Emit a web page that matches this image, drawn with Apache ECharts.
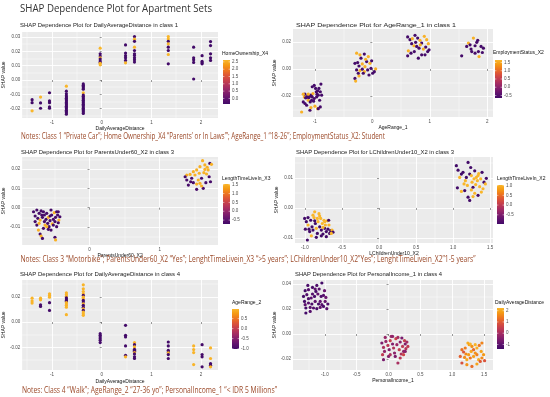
<!DOCTYPE html>
<html><head><meta charset="utf-8">
<script src="https://cdn.jsdelivr.net/npm/echarts@6/dist/echarts.min.js"></script>
<style>html,body{margin:0;padding:0;background:#fff}#c{width:550px;height:397px}</style>
</head><body><div id="c"></div>
<script>
// ---------- texts ----------
const mainTitle = 'SHAP Dependence Plot for Apartment Sets';
const panelTitles = [
  'SHAP Dependence Plot for DailyAverageDistance in class 1',
  'SHAP Dependence Plot for AgeRange_1 in class 1',
  'SHAP Dependence Plot for ParentsUnder60_X2 in class 3',
  'SHAP Dependence Plot for LChildrenUnder10_X2 in class 3',
  'SHAP Dependence Plot for DailyAverageDistance in class 4',
  'SHAP Dependence Plot for PersonalIncome_1 in class 4'
];
const xNames = ['DailyAverageDistance','AgeRange_1','ParentsUnder60_X2','LChildrenUnder10_X2','DailyAverageDistance','PersonalIncome_1'];
const yName = 'SHAP value';
const colorNames = ['HomeOwnership_X4','EmploymentStatus_X2','LengthTimeLiveIn_X3','LengthTimeLiveIn_X2','AgeRange_2','DailyAverageDistance'];
const notes = [
  'Notes: Class 1 \u201cPrivate Car\u201d; Home Ownership_X4 \u201cParents\u2019 or In Laws\u2019\u201d; AgeRange_1 \u201c18-26\u201d; EmploymentStatus_X2: Student',
  'Notes: Class 3 \u201cMotorbike\u201d; ParentsUnder60_X2 \u201cYes\u201d; LenghtTimeLivein_X3 \u201c>5 years\u201d; LChildrenUnder10_X2\u201dYes\u201d; LenghtTimeLivein_X2\u201d1-5 years\u201d',
  'Notes: Class 4 \u201cWalk\u201d; AgeRange_2 \u201c27-36 yo\u201d; PersonalIncome_1 \u201c< IDR 5 Millions\u201d'
];

// ---------- tick values ----------
const p1XTicks = [-1,0,1,2], p1XMinor = [-1.5,-0.5,0.5,1.5];
const p1YTicks = [-0.02,-0.01,0,0.01,0.02,0.03], p1YMinor = [-0.025,-0.015,-0.005,0.005,0.015,0.025];
const p2XTicks = [-1,0,1,2], p2XMinor = [-0.5,0.5,1.5];
const p2YTicks = [-0.02,0,0.02], p2YMinor = [-0.03,-0.01,0.01];
const p3XTicks = [0,1], p3XMinor = [-0.5,0.5,1.5];
const p3YTicks = [-0.01,0,0.01,0.02], p3YMinor = [-0.015,-0.005,0.005,0.015,0.025];
const p4XTicks = [-1,-0.5,0,0.5,1,1.5], p4XMinor = [-0.75,-0.25,0.25,0.75,1.25];
const p4YTicks = [-0.01,0,0.01], p4YMinor = [-0.005,0.005,0.015];
const p5XTicks = [-1,0,1,2], p5XMinor = [-1.5,-0.5,0.5,1.5];
const p5YTicks = [-0.02,0,0.02], p5YMinor = [-0.03,-0.01,0.01,0.03];
const p6XTicks = [-1,-0.5,0,0.5,1,1.5], p6XMinor = [-1.25,-0.75,-0.25,0.25,0.75,1.25];
const p6YTicks = [-0.02,0,0.02,0.04], p6YMinor = [-0.01,0.01,0.03];
const p1CTicks = [0,0.5,1,1.5,2,2.5];
const p2CTicks = [-0.5,0,0.5,1,1.5];
const p3CTicks = [-0.5,0,0.5,1,1.5];
const p4CTicks = [-0.5,0,0.5,1];
const p5CTicks = [-1,-0.5,0,0.5];
const p6CTicks = [-1,0,1,2];

// ---------- panel 1: DailyAverageDistance, class 1 ----------
const p1X = [
-1.40,-1.40,-1.40,
-1.23,-1.23,-1.23,
-1.05,-1.05,-1.05,-1.05,-1.05,
-0.71,-0.71,-0.71,-0.71,-0.71,-0.71,-0.71,-0.71,-0.71,-0.71,-0.71,-0.71,-0.71,-0.71,-0.71,-0.71,-0.71,-0.71,
-0.37,-0.37,-0.37,-0.37,-0.37,-0.37,-0.37,-0.37,-0.37,-0.37,-0.37,-0.37,-0.37,-0.37,-0.37,-0.37,-0.37,-0.37,-0.37,-0.37,-0.37,
-0.03,-0.03,-0.03,-0.03,-0.03,-0.03,-0.03,-0.03,-0.03,
0.48,0.48,0.48,0.48,0.48,0.48,
0.66,0.66,0.66,0.66,0.66,0.66,0.66,0.66,0.66,0.66,
1.34,1.34,1.34,1.34,1.34,1.34,1.34,1.34,
1.85,1.85,1.85,1.85,1.85,
2.02,2.02,2.02,2.02,
2.19,2.19,2.19,2.19,2.19];
const p1Y = [
-0.0137,-0.0158,-0.0215,
-0.0119,-0.0160,-0.0197,
-0.0089,-0.0146,-0.0158,-0.0188,-0.0197,
-0.0043,-0.0078,-0.0096,-0.0110,-0.0119,-0.0128,-0.0137,-0.0146,-0.0156,-0.0165,-0.0174,-0.0183,-0.0192,-0.0201,-0.0211,-0.0220,-0.0229,-0.0238,
-0.0027,-0.0037,-0.0046,-0.0055,-0.0064,-0.0089,-0.0105,-0.0114,-0.0124,-0.0133,-0.0142,-0.0151,-0.0160,-0.0169,-0.0178,-0.0188,-0.0197,-0.0206,-0.0215,-0.0224,-0.0233,
0.0222,0.0183,0.0167,0.0155,0.0146,0.0132,0.0123,0.0117,0.0106,
0.0245,0.0188,0.0170,0.0155,0.0137,0.0120,
0.0303,0.0285,0.0270,0.0229,0.0206,0.0183,0.0171,0.0155,0.0141,0.0125,
0.0303,0.0287,0.0270,0.0252,0.0229,0.0206,0.0178,0.0113,
0.0229,0.0155,0.0141,0.0123,0.0007,
0.0170,0.0130,0.0121,0.0113,
0.0268,0.0240,0.0183,0.0155,0.0137];
const p1C = [
-0.38,-0.38,2.63,
2.63,-0.38,-0.38,
-0.38,-0.38,-0.38,-0.38,-0.38,
2.63,-0.38,-0.38,-0.38,-0.38,-0.38,-0.38,-0.38,-0.38,-0.38,-0.38,-0.38,-0.38,-0.38,-0.38,-0.38,-0.38,-0.38,
-0.38,-0.38,-0.38,-0.38,-0.38,2.63,-0.38,-0.38,-0.38,-0.38,-0.38,-0.38,-0.38,-0.38,-0.38,-0.38,-0.38,-0.38,-0.38,-0.38,-0.38,
2.63,-0.38,-0.38,2.63,-0.38,-0.38,-0.38,2.63,2.63,
-0.38,-0.38,-0.38,-0.38,-0.38,2.63,
-0.38,2.63,-0.38,2.63,-0.38,-0.38,-0.38,-0.38,-0.38,-0.38,
2.63,2.63,-0.38,2.63,-0.38,-0.38,2.63,-0.38,
-0.38,-0.38,-0.38,-0.38,-0.38,
-0.38,-0.38,-0.38,-0.38,
-0.38,-0.38,-0.38,-0.38,-0.38];

// ---------- panel 2: AgeRange_1, class 1 ----------
const p2X = [
-1.230,-1.201,-1.184,-1.172,-1.161,-1.143,-1.126,-1.114,-1.103,-1.091,-1.080,-1.068,-1.056,-1.045,-1.033,-1.021,-1.010,-0.998,-0.987,-0.975,
-0.963,-0.952,-0.940,-0.929,-0.917,-0.905,-0.894,-0.882,-0.905,-0.952,-1.085,-1.143,-1.045,-1.010,-1.201,-1.172,-0.969,-0.940,-1.114,-1.068,
-0.273,-0.215,-0.139,-0.070,-0.302,-0.255,-0.232,-0.174,-0.128,-0.099,-0.041,-0.012,-0.273,-0.215,-0.174,-0.139,-0.081,-0.023,0.006,0.058,
-0.302,-0.290,-0.232,-0.157,-0.058,0.035,-0.197,-0.116,-0.244,
0.615,0.656,0.696,0.743,0.789,0.830,0.859,0.905,0.946,0.975,0.685,0.725,0.772,0.813,0.888,0.929,0.963,0.627,0.673,0.731,
0.801,0.859,0.615,0.917,0.987,0.836,0.754,
1.555,1.642,1.672,1.718,1.759,1.788,1.817,1.846,1.857,1.892,1.915,1.730,1.788,1.701,1.933,1.834];
const p2Y = [
-0.0319,-0.0244,-0.0207,-0.0187,-0.0214,-0.0212,-0.0202,-0.0232,-0.0212,-0.0202,-0.0244,-0.0194,-0.0232,-0.0207,-0.0182,-0.0239,-0.0219,-0.0276,-0.0144,-0.0169,
-0.0187,-0.0162,-0.0194,-0.0144,-0.0232,-0.0169,-0.0112,-0.0194,-0.0281,-0.0294,-0.0306,-0.0269,-0.0132,-0.0122,-0.0187,-0.0256,-0.0207,-0.0294,-0.0187,-0.0286,
0.0117,0.0105,0.0110,0.0092,0.0042,0.0047,0.0022,0.0037,0.0017,0.0055,0.0042,0.0060,-0.0007,-0.0012,-0.0002,-0.0020,-0.0007,0.0005,-0.0032,0.0000,
-0.0070,-0.0090,-0.0052,-0.0032,-0.0045,-0.0020,0.0080,0.0072,-0.0032,
0.0237,0.0217,0.0224,0.0249,0.0229,0.0212,0.0192,0.0242,0.0217,0.0187,0.0187,0.0172,0.0167,0.0154,0.0147,0.0162,0.0129,0.0134,0.0117,0.0129,
0.0080,0.0105,0.0097,0.0105,0.0142,0.0179,0.0197,
0.0097,0.0167,0.0192,0.0147,0.0229,0.0172,0.0197,0.0129,0.0092,0.0167,0.0122,0.0129,0.0117,0.0179,0.0154,0.0212];
const p2C = [
1.60,-0.62,1.60,-0.62,-0.62,-0.62,-0.62,1.60,-0.62,-0.62,-0.62,-0.62,-0.62,-0.62,1.60,-0.62,-0.62,1.60,-0.62,-0.62,
-0.62,-0.62,-0.62,-0.62,-0.62,-0.62,-0.62,-0.62,-0.62,1.60,-0.62,-0.62,-0.62,-0.62,1.60,-0.62,-0.62,-0.62,1.60,1.60,
1.60,1.60,-0.62,1.60,-0.62,-0.62,-0.62,1.60,1.60,-0.62,1.60,-0.62,-0.62,1.60,-0.62,1.60,-0.62,-0.62,-0.62,1.60,
-0.62,1.60,1.60,-0.62,-0.62,-0.62,-0.62,1.60,-0.62,
-0.62,-0.62,1.60,-0.62,-0.62,1.60,-0.62,1.60,1.60,1.60,-0.62,1.60,-0.62,-0.62,1.60,-0.62,-0.62,1.60,-0.62,-0.62,
-0.62,-0.62,-0.62,-0.62,-0.62,1.60,-0.62,
-0.62,-0.62,1.60,-0.62,1.60,-0.62,-0.62,-0.62,1.60,-0.62,-0.62,-0.62,-0.62,-0.62,-0.62,-0.62];

// ---------- panel 3: ParentsUnder60_X2, class 3 ----------
const p3X = [
-0.798,-0.775,-0.751,-0.737,-0.718,-0.704,-0.690,-0.681,-0.671,-0.657,-0.643,-0.634,-0.620,-0.610,-0.596,-0.587,-0.577,-0.563,-0.549,-0.540,
-0.531,-0.516,-0.502,-0.493,-0.484,-0.469,-0.455,-0.446,-0.437,-0.423,-0.728,-0.704,-0.690,-0.671,-0.493,-0.484,-0.751,-0.657,-0.610,-0.549,
-0.587,-0.775,-0.718,-0.643,-0.516,-0.446,-0.469,-0.563,
1.610,1.643,1.714,1.737,1.676,1.573,1.526,1.432,1.385,1.362,1.455,1.502,1.549,1.596,1.629,1.667,1.704,1.723,1.408,1.479,
1.526,1.573,1.620,1.657,1.385,1.441,1.563,1.479,1.690,1.526,1.596,1.643];
const p3Y = [
-0.0021,-0.0043,-0.0012,-0.0055,-0.0029,-0.0064,-0.0017,-0.0038,-0.0050,-0.0021,-0.0072,-0.0090,-0.0060,-0.0029,-0.0081,-0.0050,-0.0098,-0.0067,-0.0012,-0.0038,
-0.0084,-0.0060,-0.0026,-0.0072,-0.0050,-0.0098,-0.0038,-0.0021,-0.0064,-0.0047,-0.0116,-0.0136,-0.0147,-0.0159,-0.0153,-0.0167,-0.0090,-0.0107,-0.0098,-0.0116,
-0.0112,-0.0072,-0.0081,-0.0038,-0.0090,-0.0078,-0.0021,-0.0043,
0.0243,0.0221,0.0229,0.0224,0.0209,0.0212,0.0195,0.0172,0.0169,0.0160,0.0152,0.0169,0.0143,0.0152,0.0181,0.0174,0.0160,0.0134,0.0117,0.0129,
0.0122,0.0126,0.0100,0.0129,0.0143,0.0134,0.0178,0.0186,0.0195,0.0095,0.0112,0.0198];
const p3C = [
-0.68,-0.68,-0.68,-0.68,-0.68,1.48,-0.68,-0.68,-0.68,-0.68,-0.68,1.48,-0.68,-0.68,-0.68,1.48,-0.68,-0.68,-0.68,-0.68,
1.48,-0.68,1.48,-0.68,-0.68,-0.68,-0.68,-0.68,1.48,-0.68,1.48,-0.68,1.48,-0.68,-0.68,1.48,-0.68,-0.68,1.48,-0.68,
-0.68,-0.68,1.48,-0.68,-0.68,-0.68,-0.68,-0.68,
1.48,1.48,-0.68,1.48,1.48,1.48,1.48,1.48,1.48,-0.68,-0.68,1.48,1.48,-0.68,1.48,1.48,-0.68,-0.68,-0.68,-0.68,
1.48,1.48,-0.68,-0.68,-0.68,-0.68,1.48,1.48,1.48,-0.68,1.48,1.48];

// ---------- panel 4: LChildrenUnder10_X2, class 3 ----------
const p4X = [
-1.005,-0.982,-0.959,-0.946,-0.923,-0.905,-0.892,-0.878,-0.869,-0.860,-0.847,-0.833,-0.824,-0.811,-0.802,-0.788,-0.779,-0.766,-0.757,-0.743,
-0.734,-0.725,-0.712,-0.698,-0.689,-0.676,-0.667,-0.653,-0.635,-0.622,-0.968,-0.914,-0.847,-0.779,-0.712,-0.995,-0.937,-0.892,-0.833,-0.734,
-0.680,-0.802,-0.869,-0.959,-0.757,-0.644,
1.045,1.068,1.090,1.059,1.113,1.135,1.149,1.167,1.180,1.194,1.203,1.225,1.239,1.248,1.257,1.270,1.284,1.293,1.306,1.315,
1.329,1.338,1.347,1.360,1.374,1.383,1.392,1.405,1.419,1.437,1.203,1.225,1.270,1.338,1.113,1.158,1.248,1.450,1.293];
const p4Y = [
-0.0035,-0.0046,-0.0057,-0.0071,-0.0041,-0.0063,-0.0074,-0.0032,-0.0013,-0.0052,-0.0068,-0.0085,-0.0046,-0.0019,-0.0063,-0.0035,-0.0074,-0.0052,-0.0087,-0.0041,
-0.0068,-0.0057,-0.0079,-0.0043,-0.0071,-0.0057,-0.0085,-0.0076,-0.0074,-0.0081,-0.0107,-0.0093,-0.0098,-0.0093,-0.0096,-0.0071,-0.0079,-0.0024,-0.0035,-0.0046,
-0.0041,-0.0027,-0.0043,-0.0032,-0.0065,-0.0085,
0.0141,0.0126,0.0102,0.0067,0.0113,0.0119,0.0080,0.0091,0.0102,0.0075,0.0152,0.0113,0.0135,0.0060,0.0086,0.0069,0.0097,0.0049,0.0078,0.0102,
0.0091,0.0108,0.0115,0.0071,0.0097,0.0053,0.0119,0.0064,0.0086,0.0080,0.0036,0.0025,0.0038,0.0042,0.0055,0.0058,0.0108,0.0099,0.0124];
const p4C = [
-0.97,-0.97,1.03,-0.97,-0.97,-0.97,-0.97,1.03,1.03,-0.97,1.03,-0.97,1.03,1.03,-0.97,1.03,-0.97,1.03,-0.97,1.03,
-0.97,1.03,-0.97,1.03,-0.97,1.03,-0.97,-0.97,1.03,-0.97,-0.97,1.03,-0.97,-0.97,-0.97,-0.97,-0.97,1.03,1.03,1.03,
-0.97,1.03,-0.97,-0.97,1.03,1.03,
-0.97,-0.97,1.03,-0.97,-0.97,-0.97,1.03,1.03,-0.97,1.03,-0.97,-0.97,-0.97,1.03,1.03,-0.97,1.03,1.03,1.03,1.03,
1.03,1.03,1.03,1.03,1.03,1.03,-0.97,1.03,-0.97,1.03,-0.97,-0.97,1.03,-0.97,1.03,-0.97,1.03,-0.97,-0.97];

// ---------- panel 5: DailyAverageDistance, class 4 ----------
const p5X = [
-1.40,-1.40,-1.40,
-1.23,-1.23,-1.23,-1.23,
-1.05,-1.05,-1.05,-1.05,-1.05,
-0.71,-0.71,-0.71,-0.71,-0.71,-0.71,-0.71,-0.71,-0.71,-0.71,-0.71,-0.71,
-0.37,-0.37,-0.37,-0.37,-0.37,-0.37,-0.37,-0.37,-0.37,-0.37,-0.37,-0.37,-0.37,-0.37,-0.37,-0.37,-0.37,
-0.03,-0.03,-0.03,-0.03,-0.03,-0.03,
0.48,0.48,0.48,0.48,0.48,0.48,
0.66,0.66,0.66,0.66,0.66,0.66,0.66,0.66,0.66,0.66,
1.34,1.34,1.34,1.34,1.34,1.34,1.34,
1.85,1.85,1.85,1.85,
2.02,2.02,2.02,2.02,
2.19,2.19,2.19,2.19,2.19];
const p5Y = [
0.0189,0.0166,0.0150,
0.0189,0.0176,0.0137,0.0124,
0.0224,0.0211,0.0197,0.0153,0.0092,
0.0232,0.0218,0.0205,0.0192,0.0182,0.0171,0.0163,0.0153,0.0142,0.0132,0.0118,0.0058,
0.0295,0.0263,0.0242,0.0224,0.0211,0.0197,0.0184,0.0171,0.0158,0.0145,0.0132,0.0118,0.0105,0.0092,0.0079,0.0066,0.0053,
-0.0092,-0.0105,-0.0118,-0.0132,-0.0145,-0.0163,
-0.0026,-0.0105,-0.0118,-0.0189,-0.0263,-0.0276,
-0.0163,-0.0179,-0.0197,-0.0216,-0.0224,-0.0232,-0.0242,-0.0253,-0.0276,-0.0289,
-0.0158,-0.0189,-0.0224,-0.0237,-0.0245,-0.0258,-0.0289,
-0.0189,-0.0218,-0.0242,-0.0337,
-0.0179,-0.0258,-0.0276,-0.0355,
-0.0205,-0.0289,-0.0329,-0.0342,-0.0355];
const p5C = [
0.96,0.96,0.96,
0.96,0.96,-1.00,-1.00,
0.96,0.96,0.96,-1.00,-1.00,
0.96,0.96,0.96,-1.00,-1.00,-1.00,-1.00,0.96,0.96,0.96,0.96,0.96,
0.96,0.96,0.96,0.96,-1.00,0.96,0.96,-1.00,-1.00,0.96,-1.00,-1.00,0.96,-1.00,0.96,0.96,0.96,
-1.00,-1.00,-1.00,-1.00,-1.00,-1.00,
-1.00,-1.00,-1.00,-1.00,-1.00,0.96,
0.96,-1.00,0.96,-1.00,-1.00,-1.00,0.96,-1.00,-1.00,-1.00,
-1.00,-1.00,-1.00,-1.00,0.96,-1.00,-1.00,
0.96,0.96,0.96,0.96,
-1.00,-1.00,-1.00,-1.00,
0.96,0.96,-1.00,-1.00,0.96];

// ---------- panel 6: PersonalIncome_1, class 4 ----------
const p6X = [
-1.267,-1.309,-1.257,-1.194,-1.152,-1.126,-1.089,-1.047,-1.005,-1.335,-1.283,-1.215,-1.162,-1.110,-1.058,-1.021,-0.984,-1.319,-1.257,-1.204,
-1.152,-1.099,-1.047,-0.995,-0.953,-1.298,-1.230,-1.178,-1.126,-1.073,-1.021,-0.969,-1.298,-1.230,-1.257,-1.073,-1.141,-1.194,-1.309,
-0.105,-0.079,-0.063,-0.094,-0.079,-0.042,-0.010,0.010,0.026,0.042,0.063,0.079,0.094,0.115,0.131,0.147,0.168,0.183,0.199,0.209,
0.220,0.236,0.251,0.262,0.272,0.288,0.304,0.063,0.105,0.147,0.000,0.183,0.236,-0.052,0.262,0.026,
1.246,1.267,1.283,1.309,1.152,1.178,1.215,1.257,1.298,1.335,1.361,1.387,1.424,1.455,1.466,1.492,1.508,1.126,1.194,1.230,
1.283,1.335,1.387,1.414,1.440,1.152,1.230,1.309,1.387,1.466,1.361,1.204];
const p6Y = [
0.0389,0.0347,0.0355,0.0373,0.0360,0.0389,0.0360,0.0408,0.0347,0.0301,0.0315,0.0288,0.0301,0.0320,0.0301,0.0309,0.0293,0.0261,0.0248,0.0240,
0.0261,0.0240,0.0235,0.0261,0.0240,0.0208,0.0213,0.0208,0.0203,0.0213,0.0221,0.0203,0.0168,0.0181,0.0283,0.0261,0.0341,0.0320,0.0235,
-0.0072,-0.0107,-0.0139,-0.0165,-0.0205,-0.0059,-0.0091,-0.0125,-0.0053,-0.0019,-0.0080,-0.0112,-0.0152,-0.0037,-0.0085,-0.0027,-0.0125,-0.0064,-0.0160,-0.0032,
-0.0099,-0.0139,-0.0053,-0.0080,-0.0117,-0.0064,-0.0099,-0.0019,-0.0179,-0.0232,-0.0179,-0.0192,-0.0165,-0.0027,-0.0139,-0.0165,
-0.0072,-0.0085,-0.0080,-0.0099,-0.0125,-0.0144,-0.0160,-0.0165,-0.0139,-0.0125,-0.0152,-0.0112,-0.0091,-0.0139,-0.0072,-0.0165,-0.0213,-0.0179,-0.0187,-0.0205,
-0.0192,-0.0179,-0.0165,-0.0205,-0.0219,-0.0232,-0.0245,-0.0259,-0.0240,-0.0192,-0.0085,-0.0112];
const p6C = [
-1.25,-1.38,-1.10,-1.30,-0.95,-1.20,-1.05,-1.35,-0.85,-1.38,-1.15,-1.00,-1.30,-0.90,-1.20,-1.10,-0.80,-1.35,-1.05,-1.25,
-0.95,-1.30,-1.10,-0.85,-1.20,-1.38,-1.00,-1.15,-1.30,-0.90,-1.25,-1.05,-1.38,-1.10,-1.20,-0.95,-1.30,-1.15,-1.00,
-0.55,0.10,-0.30,0.40,-0.60,-0.20,0.30,-0.45,0.55,-0.10,-0.50,0.20,-0.35,0.60,-0.15,0.00,0.45,-0.40,0.15,-0.60,
0.35,-0.25,0.50,-0.50,0.25,-0.05,0.40,-0.30,-0.55,0.05,-0.45,0.30,0.65,-0.20,-0.40,0.10,
2.10,1.90,2.20,1.70,1.30,0.95,1.60,1.85,2.00,1.20,1.75,2.15,1.40,1.95,1.55,1.80,0.90,1.10,1.65,2.05,
1.35,1.90,1.50,2.10,1.00,0.85,1.70,1.25,1.95,1.60,2.20,1.45];

// ---------- rendering ----------
const PAL = ['#420a68','#5d126e','#7a1b6d','#982768','#b4345a','#cc4448','#e05a33','#ef7a1e','#f59b14','#f9b62a'];
const AXF = '"Liberation Sans", Arial, sans-serif';
const TF = '"Open Sans", sans-serif';
const fmt = d => v => v.toFixed(d);

const panels = [
  {g:[20,32,198,86],  xr:[-1.60,2.34], yr:[-0.0265,0.0335], xt:p1XTicks, xm:p1XMinor, yt:p1YTicks, ym:p1YMinor, xd:0, yd:2, xg:6,   yg:11.5, bar:[223,60,7,44], cr:[-0.38,2.63], ct:p1CTicks, cd:1, lt:[222,54],  tt:[20,25,158],  X:p1X,Y:p1Y,C:p1C},
  {g:[293,29,200,88], xr:[-1.38,2.10], yr:[-0.0356,0.0296], xt:p2XTicks, xm:p2XMinor, yt:p2YTicks, ym:p2YMinor, xd:0, yd:2, xg:7.5, yg:10.5, bar:[495,60,7,38], cr:[-0.65,1.65], ct:p2CTicks, cd:1, lt:[493,53],  tt:[296,25,160], X:p2X,Y:p2Y,C:p2C},
  {g:[20,157,198,88], xr:[-0.96,1.83], yr:[-0.0193,0.0262], xt:p3XTicks, xm:p3XMinor, yt:p3YTicks, ym:p3YMinor, xd:0, yd:2, xg:6.5, yg:11.5, bar:[223,184,7,40], cr:[-0.72,1.54], ct:p3CTicks, cd:1, lt:[222,179], tt:[21,152,153], X:p3X,Y:p3Y,C:p3C},
  {g:[295,157,198,86],xr:[-1.135,1.54],yr:[-0.0117,0.0170], xt:p4XTicks, xm:p4XMinor, yt:p4YTicks, ym:p4YMinor, xd:1, yd:2, xg:6.5, yg:11.5, bar:[497,185,7,39], cr:[-0.97,1.03], ct:p4CTicks, cd:1, lt:[497,179], tt:[296,152,158], X:p4X,Y:p4Y,C:p4C},
  {g:[20,280,198,90], xr:[-1.60,2.34], yr:[-0.0380,0.0333], xt:p5XTicks, xm:p5XMinor, yt:p5YTicks, ym:p5YMinor, xd:0, yd:2, xg:9,   yg:11.5, bar:[232,309,7,40], cr:[-1.02,0.98], ct:p5CTicks, cd:1, lt:[232,303], tt:[20,274,160], X:p5X,Y:p5Y,C:p5C},
  {g:[293,280,200,90],xr:[-1.50,1.64], yr:[-0.0288,0.0432], xt:p6XTicks, xm:p6XMinor, yt:p6YTicks, ym:p6YMinor, xd:1, yd:2, xg:8.5, yg:10.5, bar:[497,308,7,41], cr:[-1.40,2.24], ct:p6CTicks, cd:0, lt:[495,303], tt:[295,274,147], X:p6X,Y:p6Y,C:p6C}
];

function axisPair(isX, gi, range, maj, minr, dec, name, gap) {
  const base = {type:'value', gridIndex:gi, min:range[0], max:range[1], axisLine:{show:false}, position: isX ? 'bottom' : 'left'};
  const major = Object.assign({}, base, {
    name: name, nameLocation:'middle', nameGap: gap,
    nameTextStyle:{fontSize:5, color:'#111', fontFamily:AXF},
    axisTick:{show:true, customValues:maj, length:2, lineStyle:{color:'#333', width:0.5}},
    axisLabel:{show:true, customValues:maj, formatter:fmt(dec), fontSize:4.5, color:'#4d4d4d', margin:2, fontFamily:AXF},
    splitLine:{show:true, lineStyle:{color:'#ffffff', width:0.9}}
  });
  const minor = Object.assign({}, base, {
    axisTick:{show:false, customValues:minr},
    axisLabel:{show:false, customValues:minr},
    splitLine:{show:true, lineStyle:{color:'#ffffff', width:0.45}}
  });
  return [major, minor];
}

const canvas = document.createElement('canvas');
const ctx = canvas.getContext('2d');
function fitScale(text, font, target) { ctx.font = font; return target / ctx.measureText(text).width; }
function txt(text, x, y, font, fill, target) {
  const el = {type:'text', x:x, y:y, silent:true, z:100,
    style:{text:text, font:font, fill:fill, align:'left', verticalAlign:'middle'}};
  if (target) el.scaleX = fitScale(text, font, target);
  return el;
}

const grids = [], xAxes = [], yAxes = [], series = [], vms = [], graphics = [];
panels.forEach((p, i) => {
  grids.push({left:p.g[0], top:p.g[1], width:p.g[2], height:p.g[3], show:true, backgroundColor:'#ebebeb', borderWidth:0, containLabel:false});
  const xa = axisPair(true, i, p.xr, p.xt, p.xm, p.xd, xNames[i], p.xg);
  const ya = axisPair(false, i, p.yr, p.yt, p.ym, p.yd, yName, p.yg);
  xAxes.push(xa[0], xa[1]); yAxes.push(ya[0], ya[1]);
  series.push({type:'scatter', xAxisIndex:2*i, yAxisIndex:2*i, symbolSize:3.2, silent:true, animation:false,
    itemStyle:{opacity:1, borderWidth:0},
    data: p.X.map((x, k) => [x, p.Y[k], p.C[k]])});
  vms.push({type:'continuous', show:false, seriesIndex:i, dimension:2, min:p.cr[0], max:p.cr[1], inRange:{color:PAL}});
  graphics.push(txt(panelTitles[i], p.tt[0], p.tt[1], '6px ' + AXF, '#1a1a1a', p.tt[2]));
  const [bx, by, bw, bh] = p.bar;
  const stops = PAL.map((c, k) => ({offset: 1 - k / (PAL.length - 1), color: c}));
  stops.sort((a, b) => a.offset - b.offset);
  graphics.push({type:'rect', silent:true, shape:{x:bx, y:by, width:bw, height:bh},
    style:{fill: new echarts.graphic.LinearGradient(0, 0, 0, 1, stops)}});
  graphics.push(txt(colorNames[i], p.lt[0], p.lt[1], '5px ' + AXF, '#111'));
  p.ct.forEach(v => {
    const ty = by + (p.cr[1] - v) / (p.cr[1] - p.cr[0]) * bh;
    graphics.push({type:'line', silent:true, shape:{x1:bx, y1:ty, x2:bx + 1.4, y2:ty}, style:{stroke:'#fff', lineWidth:0.5}});
    graphics.push({type:'line', silent:true, shape:{x1:bx + bw - 1.4, y1:ty, x2:bx + bw, y2:ty}, style:{stroke:'#fff', lineWidth:0.5}});
    graphics.push(txt(v.toFixed(p.cd), bx + bw + 2, ty, '4.5px ' + AXF, '#4d4d4d'));
  });
});

graphics.push(txt(mainTitle, 20, 8.5, '11px ' + TF, '#333', 192));
const noteFont = '9px ' + TF, noteCol = '#9c4a2a';
graphics.push(txt(notes[0], 21, 136.5, noteFont, noteCol, 364));
graphics.push(txt(notes[1], 20.5, 259, noteFont, noteCol, 455));
graphics.push(txt(notes[2], 22, 390, noteFont, noteCol, 255));

const chart = echarts.init(document.getElementById('c'), null, {renderer:'canvas'});
chart.setOption({
  animation:false,
  backgroundColor:'#ffffff',
  grid: grids, xAxis: xAxes, yAxis: yAxes, series: series, visualMap: vms,
  graphic: {elements: graphics}
});
</script></body></html>
